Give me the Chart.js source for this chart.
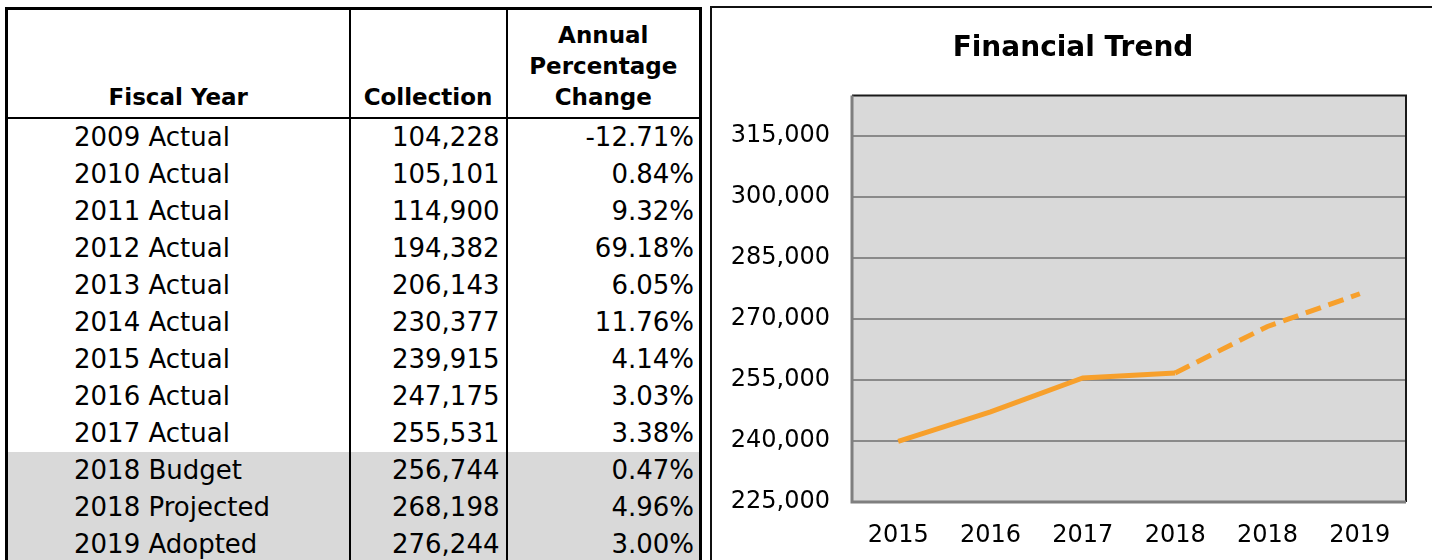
<!DOCTYPE html>
<html>
<head>
<meta charset="utf-8">
<script src="https://cdn.jsdelivr.net/npm/chart.js@4.4.1/dist/chart.umd.min.js"></script>
<style>
  body { margin: 0; width: 1432px; height: 560px; overflow: hidden; background: #fff; font-family: "DejaVu Sans", sans-serif; color: #000; }
  #tbl { position: absolute; left: 5px; top: 7px; border-collapse: collapse; table-layout: fixed; border: 3px solid #000; }
  #tbl th { font-weight: bold; font-size: 23px; line-height: 31px; vertical-align: bottom; text-align: center;
            height: 103px; padding: 0 0 4px 0; border-left: 2px solid #000; border-bottom: 2px solid #000; }
  #tbl td { font-size: 26px; height: 37px; line-height: 37px; padding: 0; border-left: 2px solid #000; white-space: nowrap; }
  #tbl td.c1 { text-align: left; padding-left: 66px; }
  #tbl td.c2 { text-align: right; padding-right: 6px; }
  #tbl td.c3 { text-align: right; padding-right: 5px; }
  #tbl tr.shade td { background: #d9d9d9; }
  #panel { position: absolute; left: 710px; top: 6px; width: 760px; height: 600px; border: 2px solid #111; box-sizing: border-box; }
  #wrap { position: absolute; left: 712px; top: 8px; width: 722px; height: 552px; }
</style>
</head>
<body>
<table id="tbl">
  <colgroup><col style="width:343px"><col style="width:157px"><col style="width:194px"></colgroup>
  <thead><tr><th>Fiscal Year</th><th>Collection</th><th>Annual<br>Percentage<br>Change</th></tr></thead>
  <tbody id="rows"></tbody>
</table>
<div id="panel"></div>
<div id="wrap"><canvas id="trend" width="722" height="552"></canvas></div>

<script>
// table data
const fiscalYears = ["2009 Actual", "2010 Actual", "2011 Actual", "2012 Actual", "2013 Actual", "2014 Actual",
  "2015 Actual", "2016 Actual", "2017 Actual", "2018 Budget", "2018 Projected", "2019 Adopted"];
const collections = [104228, 105101, 114900, 194382, 206143, 230377, 239915, 247175, 255531, 256744, 268198, 276244];
const pctChanges = ["-12.71%", "0.84%", "9.32%", "69.18%", "6.05%", "11.76%", "4.14%", "3.03%", "3.38%", "0.47%", "4.96%", "3.00%"];

// chart data (last six rows of the table)
const trendLabels = ["2015", "2016", "2017", "2018", "2018", "2019"];
const trendValues = [239915, 247175, 255531, 256744, 268198, 276244];
const yTickValues = [225000, 240000, 255000, 270000, 285000, 300000, 315000];
const yMin = 225000, yMax = 325000;

const tbody = document.getElementById("rows");
fiscalYears.forEach((fy, i) => {
  const tr = document.createElement("tr");
  if (i >= 9) tr.className = "shade";
  tr.innerHTML = `<td class="c1">${fy}</td><td class="c2">${collections[i].toLocaleString("en-US")}</td><td class="c3">${pctChanges[i]}</td>`;
  tbody.appendChild(tr);
});

// grey plot background + frame (dark top/right, grey left/bottom)
const plotBg = {
  id: "plotBg",
  beforeDraw(chart) {
    const { ctx, chartArea: a } = chart;
    ctx.save();
    ctx.fillStyle = "#d9d9d9";
    ctx.fillRect(a.left, a.top, a.right - a.left, a.bottom - a.top);
    ctx.restore();
  },
  afterDatasetsDraw(chart) {
    const { ctx, chartArea: a } = chart;
    ctx.save();
    ctx.lineWidth = 2;
    ctx.strokeStyle = "#1a1a1a";
    ctx.beginPath();
    ctx.moveTo(a.left, a.top); ctx.lineTo(a.right, a.top); ctx.lineTo(a.right, a.bottom);
    ctx.stroke();
    ctx.lineWidth = 3;
    ctx.strokeStyle = "#7f7f7f";
    ctx.beginPath();
    ctx.moveTo(a.left, a.top); ctx.lineTo(a.left, a.bottom); ctx.lineTo(a.right, a.bottom);
    ctx.stroke();
    ctx.restore();
  },
};

const FONT = "'DejaVu Sans', sans-serif";

new Chart(document.getElementById("trend"), {
  type: "line",
  data: {
    labels: trendLabels,
    datasets: [{
      data: trendValues,
      borderColor: "#f7a02c",
      borderWidth: 5,
      pointRadius: 0,
      tension: 0,
      segment: { borderDash: c => (c.p0DataIndex >= 3 ? [16, 8] : undefined) },
    }],
  },
  options: {
    responsive: false,
    animation: false,
    layout: { padding: 0 },
    plugins: {
      legend: { display: false },
      tooltip: { enabled: false },
      title: {
        display: true,
        text: "Financial Trend",
        color: "#000",
        font: { family: FONT, size: 28, weight: "bold" },
        padding: { top: 24, bottom: 30 },
      },
    },
    scales: {
      x: {
        offset: true,
        grid: { display: false, drawTicks: false },
        border: { display: false },
        ticks: { color: "#000", font: { family: FONT, size: 24 }, padding: 19, maxRotation: 0 },
        afterFit: s => { s.height = 58; },
      },
      y: {
        min: yMin,
        max: yMax,
        grid: { color: "#8a8a8a", lineWidth: 2, drawTicks: false },
        border: { display: false },
        ticks: {
          color: "#000",
          padding: 22,
          font: { family: FONT, size: 24 },
          callback: v => v.toLocaleString("en-US"),
        },
        afterBuildTicks: s => { s.ticks = yTickValues.map(v => ({ value: v })); },
        afterFit: s => { s.width = 140; },
      },
      // empty right-hand box keeps the plot clear of the panel edge
      yRight: {
        position: "right",
        display: true,
        grid: { display: false, drawTicks: false },
        border: { display: false },
        ticks: { display: false },
        afterFit: s => { s.width = 28; },
      },
    },
  },
  plugins: [plotBg],
});
</script>
</body>
</html>
